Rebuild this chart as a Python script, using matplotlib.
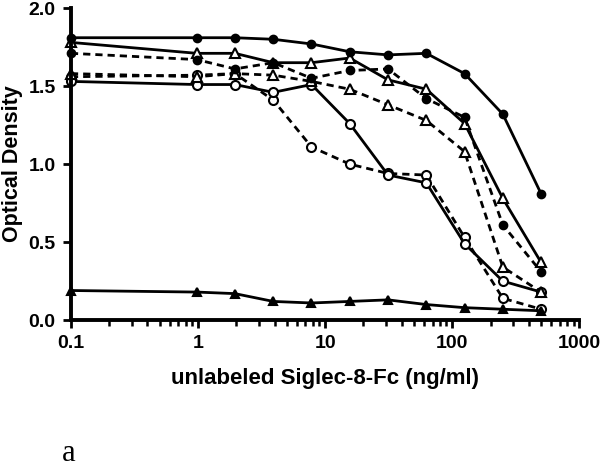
import matplotlib
matplotlib.use("Agg")
import matplotlib.pyplot as plt
from matplotlib.ticker import LogLocator, FixedLocator, FormatStrFormatter, NullFormatter

# concentrations of unlabeled Siglec-8-Fc (ng/ml)
conc = [0.1, 0.977, 1.95, 3.91, 7.81, 15.6, 31.25, 62.5, 125, 250, 500]

# optical density per competition curve
od_solid_fcirc = [1.81, 1.81, 1.81, 1.80, 1.77, 1.72, 1.70, 1.71, 1.58, 1.32, 0.81]
od_solid_otri = [1.78, 1.71, 1.71, 1.65, 1.65, 1.68, 1.54, 1.48, 1.26, 0.78, 0.37]
od_dash_fcirc = [1.71, 1.67, 1.61, 1.65, 1.55, 1.60, 1.61, 1.42, 1.30, 0.61, 0.31]
od_dash_otri = [1.58, 1.56, 1.58, 1.57, 1.53, 1.48, 1.38, 1.28, 1.08, 0.34, 0.18]
od_solid_ocirc = [1.53, 1.51, 1.51, 1.46, 1.51, 1.26, 0.93, 0.88, 0.49, 0.25, 0.18]
od_dash_ocirc = [1.56, 1.57, 1.58, 1.41, 1.11, 1.00, 0.94, 0.93, 0.53, 0.14, 0.07]
od_solid_ftri = [0.19, 0.18, 0.17, 0.12, 0.11, 0.12, 0.13, 0.10, 0.08, 0.07, 0.06]

plt.rcParams["font.family"] = ["Liberation Sans", "DejaVu Sans"]
plt.rcParams["font.weight"] = "bold"

fig = plt.figure(figsize=(6.01, 4.75), dpi=100)
ax = fig.add_axes([0.118, 0.326, 0.846, 0.657])

lw = 2.0
dash = (0, (2.6, 1.8))
styles = [
    (od_dash_ocirc, dash, "o", "white", 6.5),
    (od_solid_ocirc, "-", "o", "white", 6.5),
    (od_dash_otri, dash, "^", "white", 7),
    (od_solid_otri, "-", "^", "white", 7),
    (od_dash_fcirc, dash, "o", "black", 5.5),
    (od_solid_fcirc, "-", "o", "black", 5.5),
    (od_solid_ftri, "-", "^", "black", 6),
]
for vals, ls, mk, fc, ms in styles:
    ax.plot(conc, vals, color="black", ls=ls, lw=lw, marker=mk, ms=ms,
            mfc=fc, mec="black", mew=1.5, clip_on=False)

ax.set_xscale("log")
ax.set_xlim(0.1, 1000)
ax.set_ylim(0, 2.0)
ax.xaxis.set_major_locator(FixedLocator([0.1, 1, 10, 100, 1000]))
ax.xaxis.set_minor_locator(LogLocator(base=10, subs=range(2, 10)))
ax.xaxis.set_minor_formatter(NullFormatter())
ax.set_xticklabels(["0.1", "1", "10", "100", "1000"])
ax.set_yticks([0, 0.5, 1.0, 1.5, 2.0])
ax.yaxis.set_major_formatter(FormatStrFormatter("%.1f"))

for s in ["top", "right"]:
    ax.spines[s].set_visible(False)
for s in ["left", "bottom"]:
    ax.spines[s].set_linewidth(2.8)
ax.tick_params(which="major", length=6, width=2.0, labelsize=14, pad=5)
ax.tick_params(which="minor", length=4, width=1.8)

ax.set_xlabel("unlabeled Siglec-8-Fc (ng/ml)", fontsize=16, fontweight="bold", labelpad=11)
ax.set_ylabel("Optical Density", fontsize=15.5, fontweight="bold")
ax.yaxis.set_label_coords(-0.094, 0.5)

fig.text(0.103, 0.03, "a", fontsize=22, fontweight="normal",
         family=["Liberation Serif", "DejaVu Serif"])

fig.savefig("out.png", dpi=100)
